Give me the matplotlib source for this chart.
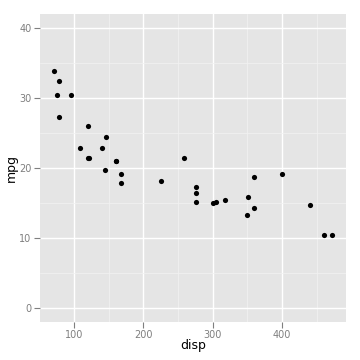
import matplotlib
matplotlib.use("Agg")
import matplotlib.pyplot as plt
from matplotlib.ticker import MultipleLocator

disp = [160, 160, 108, 258, 360, 225, 360, 146.7, 140.8, 167.6, 167.6, 275.8, 275.8, 275.8,
        472, 460, 440, 78.7, 75.7, 71.1, 120.1, 318, 304, 350, 400, 79, 120.3, 95.1, 351,
        145, 301, 121]
mpg = [21.0, 21.0, 22.8, 21.4, 18.7, 18.1, 14.3, 24.4, 22.8, 19.2, 17.8, 16.4, 17.3, 15.2,
       10.4, 10.4, 14.7, 32.4, 30.4, 33.9, 21.5, 15.5, 15.2, 13.3, 19.2, 27.3, 26.0, 30.4,
       15.8, 19.7, 15.0, 21.4]
x_ticks = [100, 200, 300, 400]
y_ticks = [0, 10, 20, 30, 40]

fig = plt.figure(figsize=(3.6, 3.6), dpi=100)
ax = fig.add_axes([40/360, 38/360, 306/360, 308/360])
ax.set_facecolor("#E5E5E5")
ax.scatter(disp, mpg, s=14, c="black", marker="o", linewidths=0, zorder=3)
ax.set_xlim(51, 492)
ax.set_ylim(-2, 42)
ax.set_xticks(x_ticks)
ax.set_yticks(y_ticks)
ax.xaxis.set_minor_locator(MultipleLocator(50))
ax.yaxis.set_minor_locator(MultipleLocator(5))
ax.grid(which="major", color="white", linewidth=1.0, zorder=1)
ax.grid(which="minor", color="#F2F2F2", linewidth=0.5, zorder=1)
ax.set_axisbelow(True)
for s in ax.spines.values():
    s.set_visible(False)
ax.tick_params(which="major", length=4, color="#7F7F7F", labelcolor="#7F7F7F", labelsize=7, width=0.8, pad=2)
ax.tick_params(which="minor", length=0)
ax.set_xlabel("disp", fontsize=9, labelpad=-1)
ax.set_ylabel("mpg", fontsize=9, labelpad=1)
fig.savefig("out.png", dpi=100)
